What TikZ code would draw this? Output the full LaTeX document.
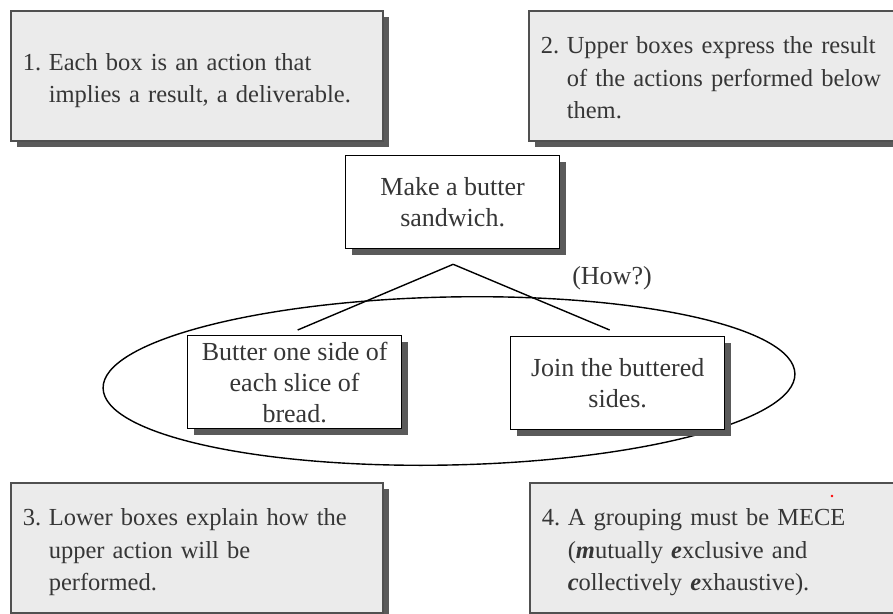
\documentclass[tikz,border=0pt]{standalone}
\usepackage{fontspec}
\setmainfont{Liberation Serif}
\usetikzlibrary{shadows,calc}
\definecolor{panelfill}{HTML}{EBEBEB}
\definecolor{panelline}{HTML}{505050}
\definecolor{shadowgray}{HTML}{5A5A5A}
\definecolor{inkgray}{HTML}{363636}
\newcommand{\bi}[1]{\textbf{\textit{#1}}}
% numbered note text, nudged a little below the box centre
\newcommand{\notetext}[1]{\raisebox{-4pt}[\height][\depth]{%
  \begin{tabular}{@{}p{26pt}@{}l@{}}#1\end{tabular}}}
\begin{document}
\begin{tikzpicture}[x=1pt,y=-1pt,
  note/.style={draw=panelline, line width=1.6pt, fill=panelfill,
    minimum width=372pt, minimum height=130pt, text width=348pt,
    inner xsep=12pt, inner ysep=0pt, align=left, anchor=north west,
    text=inkgray, font=\fontsize{24.5}{32.5}\selectfont,
    general shadow={fill=shadowgray, shadow xshift=6pt, shadow yshift=-6pt}},
  task/.style={draw=black, line width=1.3pt, fill=white,
    minimum width=214pt, minimum height=93pt, inner sep=0pt,
    align=center, anchor=north west, text=inkgray,
    font=\fontsize{26}{31}\selectfont,
    general shadow={fill=shadowgray, shadow xshift=6.5pt, shadow yshift=-6.5pt}},
  link/.style={draw=black, line width=1.4pt},
  group/.style={draw=black, line width=1.4pt}
]
\useasboundingbox (0,0) rectangle (893,613);
\clip (0,0) rectangle (893,613);

% the grouping ellipse around the two sub-actions
\coordinate (ec) at (449,381);
\begin{scope}[shift={(ec)}, rotate=1.2]
  \draw[group] (0,0) ellipse [x radius=346pt, y radius=84pt];
\end{scope}

% the four explanatory notes
\node[note] (n1) at (10,10) {\notetext{%
  1. & Each box is an action that\\
     & implies a result, a deliverable.}};
\node[note] (n2) at (528,10) {\notetext{%
  2. & Upper boxes express the result\\
     & of the actions performed below\\
     & them.}};
\node[note] (n3) at (10,482) {\notetext{%
  3. & Lower boxes explain how the\\
     & upper action will be\\
     & performed.}};
\node[note] (n4) at (529,482) {\notetext{%
  4. & A grouping must be MECE\\
     & (\bi{m}utually \bi{e}xclusive and\\
     & \bi{c}ollectively \bi{e}xhaustive).}};
\fill[red] (832,496) circle (1.3pt);

% the action tree
\node[task] (top) at (345,155) {Make a butter\\sandwich.};
\node[task] (lb) at (187,335) {Butter one side of\\each slice of\\bread.};
\node[task] (rb) at (510,336) {Join the buttered\\sides.};

\coordinate (apex) at ($(top.south)+(0.5,15)$);
\draw[link] (apex) -- ([shift={(3,-5)}]lb.north);
\draw[link] (apex) -- ([shift={(-8,-6)}]rb.north);

\node[text=inkgray, font=\fontsize{26}{31}\selectfont] (how) at (612,278) {(How?)};
\end{tikzpicture}
\end{document}
